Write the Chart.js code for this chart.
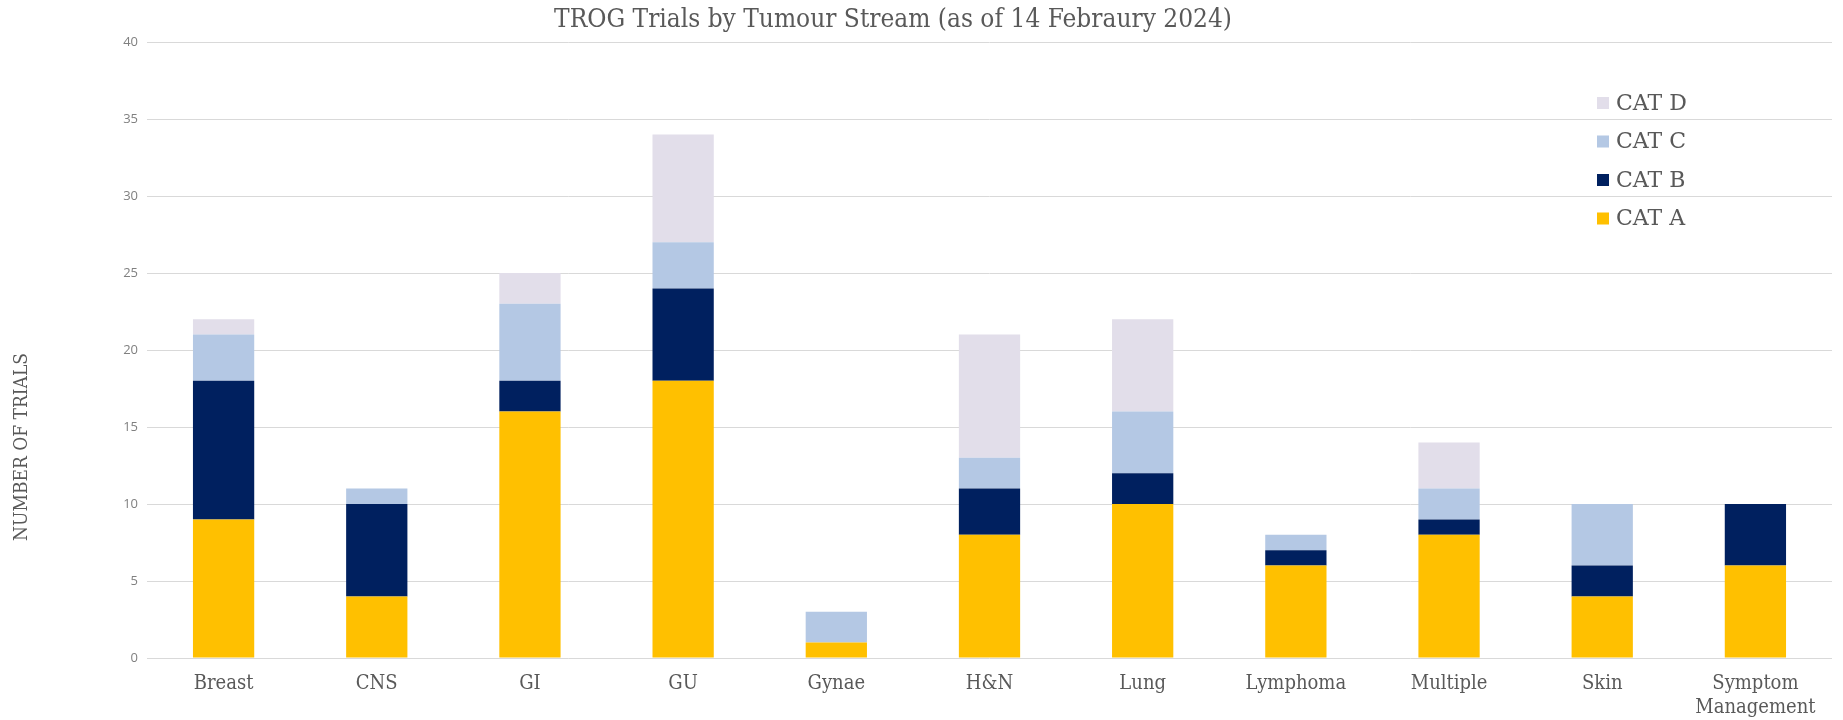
<!DOCTYPE html>
<html>
<head>
<meta charset="utf-8">
<script src="https://cdn.jsdelivr.net/npm/chart.js@4/dist/chart.umd.min.js"></script>
<style>
  html, body { margin: 0; padding: 0; background: #fff; }
  #wrap { position: relative; width: 1843px; height: 720px; }
</style>
</head>
<body>
<div id="wrap"><canvas id="trogChart"></canvas></div>
<script>
// chart data
const streams = ['Breast', 'CNS', 'GI', 'GU', 'Gynae', 'H&N', 'Lung', 'Lymphoma', 'Multiple', 'Skin', ['Symptom', 'Management']];
const catA = [9, 4, 16, 18, 1, 8, 10, 6, 8, 4, 6];
const catB = [9, 6, 2, 6, 0, 3, 2, 1, 1, 2, 4];
const catC = [3, 1, 5, 3, 2, 2, 4, 1, 2, 4, 0];
const catD = [1, 0, 2, 7, 0, 8, 6, 0, 3, 0, 0];
const yTicks = [0, 5, 10, 15, 20, 25, 30, 35, 40];

const chartTitle = 'TROG Trials by Tumour Stream (as of 14 Febraury 2024)';
const SERIF = '"DejaVu Serif Condensed", "DejaVu Serif", serif';
const textGrey = '#595959';

// title is a bit left of the canvas centre in the original
const topTitle = {
  id: 'topTitle',
  afterDraw(chart) {
    const ctx = chart.ctx;
    ctx.save();
    ctx.font = '26px ' + SERIF;
    ctx.fillStyle = textGrey;
    ctx.textAlign = 'center';
    ctx.textBaseline = 'middle';
    ctx.fillText(chartTitle, 893, 20);
    ctx.restore();
  }
};

// legend drawn inside the plot, top right (D on top, A at bottom)
const cornerLegend = {
  id: 'cornerLegend',
  afterDraw(chart) {
    const ctx = chart.ctx;
    const sets = chart.data.datasets.slice().reverse();
    ctx.save();
    ctx.font = '22px "DejaVu Serif", serif';
    ctx.textBaseline = 'middle';
    sets.forEach((ds, i) => {
      const y = 103 + i * 38.5;
      ctx.fillStyle = ds.backgroundColor;
      ctx.fillRect(1597, y - 6, 12, 12);
      ctx.fillStyle = textGrey;
      ctx.fillText(ds.label, 1616, y + 1);
    });
    ctx.restore();
  }
};

// y axis title sits lower than plot centre in the original
const yTitle = {
  id: 'yTitle',
  afterDraw(chart) {
    const ctx = chart.ctx;
    ctx.save();
    ctx.translate(22, 447);
    ctx.rotate(-Math.PI / 2);
    ctx.font = '19px ' + SERIF;
    ctx.fillStyle = textGrey;
    ctx.textAlign = 'center';
    ctx.textBaseline = 'middle';
    ctx.fillText('NUMBER OF TRIALS', 0, 0);
    ctx.restore();
  }
};

const ctx = document.getElementById('trogChart').getContext('2d');
new Chart(ctx, {
  type: 'bar',
  data: {
    labels: streams,
    datasets: [
      { label: 'CAT A', data: catA, backgroundColor: '#FFC000' },
      { label: 'CAT B', data: catB, backgroundColor: '#00205F' },
      { label: 'CAT C', data: catC, backgroundColor: '#B4C8E4' },
      { label: 'CAT D', data: catD, backgroundColor: '#E2DEEA' }
    ]
  },
  options: {
    responsive: true,
    maintainAspectRatio: false,
    animation: false,
    layout: { padding: { left: 0, right: 11, top: 42, bottom: 0 } },
    datasets: { bar: { categoryPercentage: 0.8, barPercentage: 0.5 } },
    plugins: {
      legend: { display: false },
      tooltip: { enabled: false },
      title: { display: false }
    },
    scales: {
      x: {
        stacked: true,
        grid: { display: false, drawTicks: false },
        border: { display: false },
        ticks: {
          color: textGrey,
          font: { family: SERIF, size: 20, lineHeight: 1.2 },
          padding: 14,
          maxRotation: 0,
          autoSkip: false
        },
        afterFit(scale) { scale.height = 62; }
      },
      y: {
        stacked: true,
        min: 0,
        max: 40,
        afterBuildTicks(scale) { scale.ticks = yTicks.map(v => ({ value: v })); },
        grid: { color: '#D9D9D9', lineWidth: 1, drawTicks: false },
        border: { display: false },
        ticks: {
          color: '#808080',
          font: { family: '"Open Sans", sans-serif', size: 13 },
          padding: 9
        },
        afterFit(scale) { scale.width = 147; }
      }
    }
  },
  plugins: [topTitle, cornerLegend, yTitle]
});
</script>
</body>
</html>
